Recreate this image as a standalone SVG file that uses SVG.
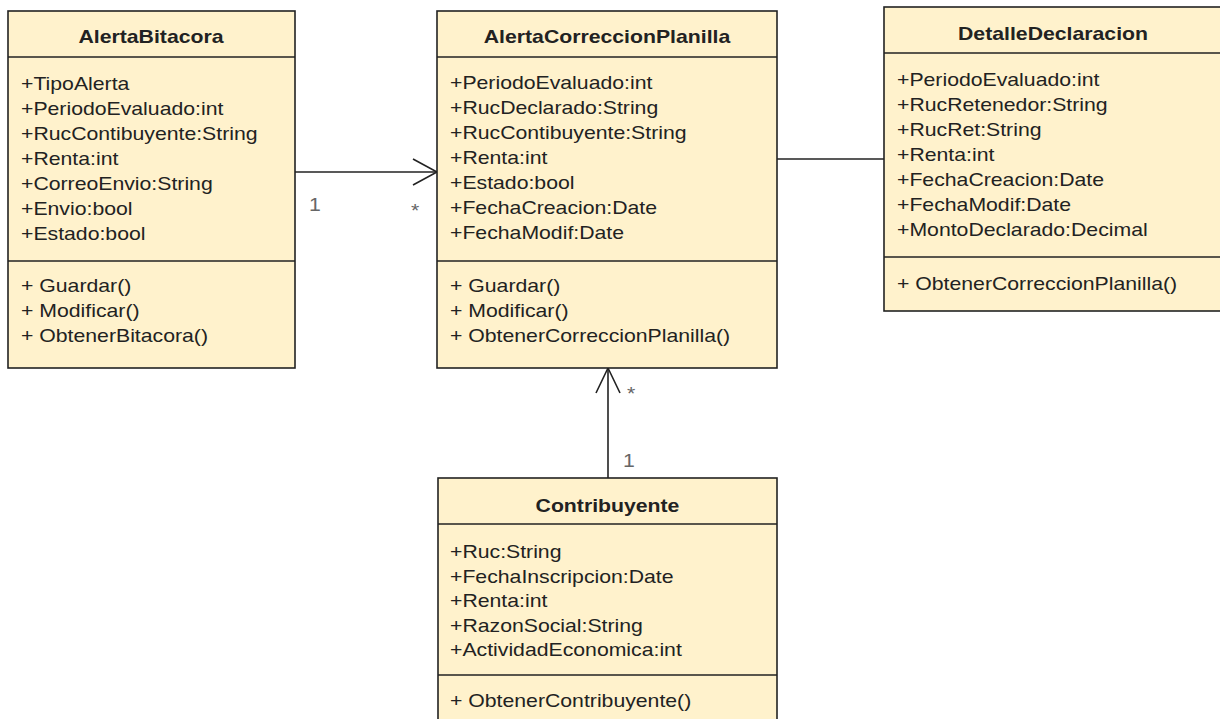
<svg xmlns="http://www.w3.org/2000/svg" width="1220" height="719" viewBox="0 0 1220 719">
<style>
.box{fill:#fff2cc;stroke:#222;stroke-width:1.6}
.sep{stroke:#222;stroke-width:1.6}
.t{font-family:"Liberation Sans",Arial,sans-serif;font-size:18px;fill:#222}
.h{font-family:"Liberation Sans",Arial,sans-serif;font-size:18px;font-weight:bold;fill:#222;text-anchor:middle}
.m{font-family:"Liberation Sans",Arial,sans-serif;font-size:18px;fill:#666}
.c{fill:none;stroke:#222;stroke-width:1.6}
</style>
<rect width="1220" height="719" fill="#fff"/>
<g id="connectors">
<line class="c" x1="295" y1="172" x2="437" y2="172"/>
<polyline class="c" points="413,159 437,172 413,185"/>
<line class="c" x1="777" y1="159" x2="884" y2="159"/>
<line class="c" x1="608" y1="478" x2="608" y2="368"/>
<polyline class="c" points="596,393 608,368 620,393"/>
<text class="m" transform="matrix(1.18 0 0 1 309 211)">1</text>
<text class="m" transform="matrix(1.18 0 0 1 411 217)">*</text>
<text class="m" transform="matrix(1.18 0 0 1 627 400)">*</text>
<text class="m" transform="matrix(1.18 0 0 1 623 467)">1</text>
</g>
<g id="AlertaBitacora">
<rect class="box" x="8" y="11" width="287" height="357"/>
<line class="sep" x1="8" y1="57" x2="295" y2="57"/>
<line class="sep" x1="8" y1="261" x2="295" y2="261"/>
<text class="h" transform="matrix(1.18 0 0 1 151 43)">AlertaBitacora</text>
<text class="t" transform="matrix(1.18 0 0 1 21 90)">+TipoAlerta</text>
<text class="t" transform="matrix(1.18 0 0 1 21 115)">+PeriodoEvaluado:int</text>
<text class="t" transform="matrix(1.18 0 0 1 21 140)">+RucContibuyente:String</text>
<text class="t" transform="matrix(1.18 0 0 1 21 165)">+Renta:int</text>
<text class="t" transform="matrix(1.18 0 0 1 21 190)">+CorreoEnvio:String</text>
<text class="t" transform="matrix(1.18 0 0 1 21 215)">+Envio:bool</text>
<text class="t" transform="matrix(1.18 0 0 1 21 240)">+Estado:bool</text>
<text class="t" transform="matrix(1.18 0 0 1 21 292)">+ Guardar()</text>
<text class="t" transform="matrix(1.18 0 0 1 21 317)">+ Modificar()</text>
<text class="t" transform="matrix(1.18 0 0 1 21 342)">+ ObtenerBitacora()</text>
</g>
<g id="AlertaCorreccionPlanilla">
<rect class="box" x="437" y="11" width="340" height="357"/>
<line class="sep" x1="437" y1="57" x2="777" y2="57"/>
<line class="sep" x1="437" y1="261" x2="777" y2="261"/>
<text class="h" transform="matrix(1.18 0 0 1 607 43)">AlertaCorreccionPlanilla</text>
<text class="t" transform="matrix(1.18 0 0 1 450 89)">+PeriodoEvaluado:int</text>
<text class="t" transform="matrix(1.18 0 0 1 450 114)">+RucDeclarado:String</text>
<text class="t" transform="matrix(1.18 0 0 1 450 139)">+RucContibuyente:String</text>
<text class="t" transform="matrix(1.18 0 0 1 450 164)">+Renta:int</text>
<text class="t" transform="matrix(1.18 0 0 1 450 189)">+Estado:bool</text>
<text class="t" transform="matrix(1.18 0 0 1 450 214)">+FechaCreacion:Date</text>
<text class="t" transform="matrix(1.18 0 0 1 450 239)">+FechaModif:Date</text>
<text class="t" transform="matrix(1.18 0 0 1 450 292)">+ Guardar()</text>
<text class="t" transform="matrix(1.18 0 0 1 450 317)">+ Modificar()</text>
<text class="t" transform="matrix(1.18 0 0 1 450 342)">+ ObtenerCorreccionPlanilla()</text>
</g>
<g id="DetalleDeclaracion">
<rect class="box" x="884" y="7" width="340" height="304"/>
<line class="sep" x1="884" y1="53" x2="1224" y2="53"/>
<line class="sep" x1="884" y1="257" x2="1224" y2="257"/>
<text class="h" transform="matrix(1.18 0 0 1 1053 40)">DetalleDeclaracion</text>
<text class="t" transform="matrix(1.18 0 0 1 897 86)">+PeriodoEvaluado:int</text>
<text class="t" transform="matrix(1.18 0 0 1 897 111)">+RucRetenedor:String</text>
<text class="t" transform="matrix(1.18 0 0 1 897 136)">+RucRet:String</text>
<text class="t" transform="matrix(1.18 0 0 1 897 161)">+Renta:int</text>
<text class="t" transform="matrix(1.18 0 0 1 897 186)">+FechaCreacion:Date</text>
<text class="t" transform="matrix(1.18 0 0 1 897 211)">+FechaModif:Date</text>
<text class="t" transform="matrix(1.18 0 0 1 897 236)">+MontoDeclarado:Decimal</text>
<text class="t" transform="matrix(1.18 0 0 1 897 290)">+ ObtenerCorreccionPlanilla()</text>
</g>
<g id="Contribuyente">
<rect class="box" x="438" y="478" width="339" height="260"/>
<line class="sep" x1="438" y1="524" x2="777" y2="524"/>
<line class="sep" x1="438" y1="675" x2="777" y2="675"/>
<text class="h" transform="matrix(1.18 0 0 1 607.5 512)">Contribuyente</text>
<text class="t" transform="matrix(1.18 0 0 1 450 558)">+Ruc:String</text>
<text class="t" transform="matrix(1.18 0 0 1 450 582.5)">+FechaInscripcion:Date</text>
<text class="t" transform="matrix(1.18 0 0 1 450 607)">+Renta:int</text>
<text class="t" transform="matrix(1.18 0 0 1 450 631.5)">+RazonSocial:String</text>
<text class="t" transform="matrix(1.18 0 0 1 450 656)">+ActividadEconomica:int</text>
<text class="t" transform="matrix(1.18 0 0 1 450 707)">+ ObtenerContribuyente()</text>
</g>
</svg>
